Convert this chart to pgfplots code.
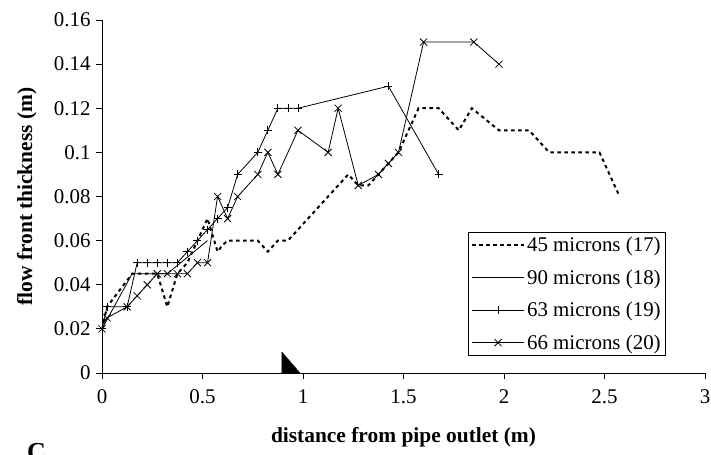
\documentclass[border=0pt]{standalone}
\usepackage{fontspec}
\setmainfont{Liberation Serif}
\usepackage{pgfplots}
\pgfplotsset{compat=1.18}
\begin{document}
\begin{tikzpicture}
\begin{axis}[
  scale only axis,
  width=603bp, height=353bp,
  xmin=0, xmax=3, ymin=0, ymax=0.16,
  axis x line=bottom, axis y line=left,
  axis line style={-, line width=0.8bp, black},
  xtick={0,0.5,1,1.5,2,2.5,3},
  ytick={0,0.02,0.04,0.06,0.08,0.1,0.12,0.14,0.16},
  tick align=outside, major tick length=6bp,
  tick style={black, line width=0.8bp},
  scaled ticks=false,
  yticklabel style={/pgf/number format/fixed, /pgf/number format/precision=2, xshift=-2bp},
  xticklabel style={/pgf/number format/fixed, yshift=-7bp},
  /pgf/number format/assume math mode=true,
  ticklabel style={font=\fontsize{21}{25}\selectfont},
  xlabel={distance from pipe outlet (m)},
  ylabel={flow front thickness (m)},
  label style={font=\bfseries\fontsize{21.5}{25}\selectfont},
  xlabel style={at={(axis description cs:0.5,-0.1813)}, anchor=center},
  ylabel style={at={(axis description cs:-0.1244,0.5)}, anchor=center},
  legend style={at={(rel axis cs:0.9353,0.0482)}, anchor=south east,
    draw=black, line width=0.6bp, font=\fontsize{21}{25}\selectfont,
    legend cell align=left, row sep=12.5bp, inner sep=3bp},
  legend image code/.code={\draw[mark repeat=2,mark phase=2,#1]
    plot coordinates {(0bp,0bp) (26bp,0bp) (52bp,0bp)};},
]
\coordinate (sw) at (rel axis cs:0,0);
\addplot[fill=black, draw=black, forget plot] coordinates {(0.895,0) (0.895,0.0095) (0.985,0) (0.895,0)};
% 45 microns (17)
\addplot[black, line width=2bp, dash pattern=on 3.5bp off 3.5bp] coordinates {
(0,0.02) (0.025,0.03) (0.075,0.036) (0.15,0.045) (0.275,0.045) (0.325,0.03)
(0.375,0.045) (0.425,0.05) (0.475,0.06) (0.525,0.07) (0.575,0.055) (0.6,0.058)
(0.625,0.06) (0.775,0.06) (0.825,0.055) (0.875,0.06) (0.925,0.06) (0.975,0.065)
(1.025,0.07) (1.075,0.075) (1.125,0.08) (1.175,0.085) (1.225,0.09) (1.275,0.085)
(1.325,0.085) (1.375,0.09) (1.425,0.095) (1.475,0.10) (1.525,0.11) (1.575,0.12)
(1.675,0.12) (1.775,0.11) (1.84,0.12) (1.975,0.11) (2.125,0.11) (2.225,0.10)
(2.475,0.10) (2.575,0.08)};
\addlegendentry{45 microns (17)}
% 90 microns (18)
\addplot[black, line width=0.8bp] coordinates {
(0,0.02) (0.15,0.045) (0.325,0.045) (0.525,0.06)};
\addlegendentry{90 microns (18)}
% 63 microns (19)
\addplot[black, line width=0.8bp, mark=+, mark size=4bp] coordinates {
(0,0.02) (0.025,0.03) (0.125,0.03) (0.175,0.05) (0.225,0.05) (0.275,0.05)
(0.325,0.05) (0.375,0.05) (0.425,0.055) (0.475,0.06) (0.525,0.065) (0.575,0.07)
(0.625,0.075) (0.675,0.09) (0.775,0.10) (0.825,0.11) (0.875,0.12) (0.925,0.12)
(0.975,0.12) (1.425,0.13) (1.675,0.09)};
\addlegendentry{63 microns (19)}
% 66 microns (20)
\addplot[black, line width=0.8bp, mark=x, mark size=5bp] coordinates {
(0,0.02) (0.025,0.025) (0.125,0.03) (0.175,0.035) (0.225,0.04) (0.275,0.045)
(0.325,0.045) (0.375,0.045) (0.425,0.045) (0.475,0.05) (0.525,0.05) (0.575,0.08)
(0.625,0.07) (0.675,0.08) (0.775,0.09) (0.825,0.10) (0.875,0.09) (0.975,0.11)
(1.125,0.10) (1.175,0.12) (1.275,0.085) (1.375,0.09) (1.425,0.095) (1.475,0.10)
(1.6,0.15) (1.85,0.15) (1.975,0.14)};
\addlegendentry{66 microns (20)}
\end{axis}
\node[anchor=north west, inner sep=0pt, font=\bfseries\fontsize{26}{30}\selectfont]
  at ([shift={(-75bp,-70bp)}]sw) {C};
\pgfresetboundingbox
\path[use as bounding box] ([shift={(-102bp,-82bp)}]sw) rectangle ([shift={(609bp,373bp)}]sw);
\end{tikzpicture}
\end{document}
